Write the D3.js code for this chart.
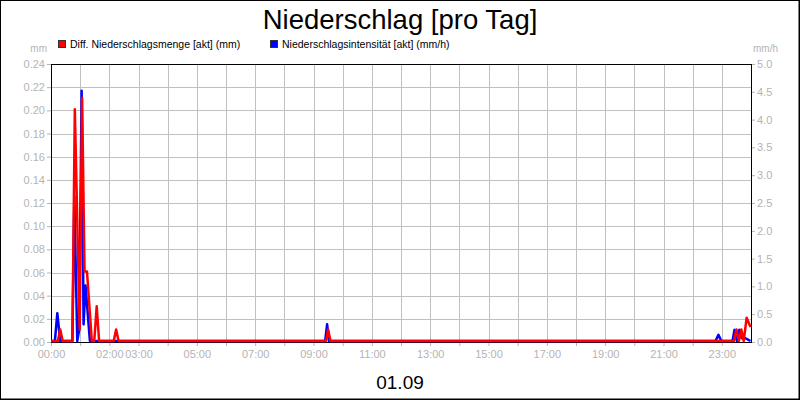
<!DOCTYPE html>
<html>
<head>
<meta charset="utf-8">
<script src="https://cdn.jsdelivr.net/npm/d3@7"></script>
<style>
  body { margin: 0; background: #fff; }
  svg { display: block; font-family: "Liberation Sans", Arial, sans-serif; }
</style>
</head>
<body>
<svg id="chart"></svg>
<script>
// Niederschlag, one day in 5-min-ish steps

var width = 800;
var height = 400;

var mengeTimes  = ["00:00","00:14","00:19","00:24","00:44","00:49","00:59","01:04","01:09","01:14","01:19","01:24",
                   "01:29","01:34","01:39","02:09","02:14","02:19","09:26","09:30","09:35",
                   "23:25","23:30","23:35","23:40","23:45","23:51","23:59"];
var mengeValues = [0, 0, 0.01, 0, 0, 0.20, 0.01, 0.21, 0.06, 0.06, 0.03, 0,
                   0, 0.03, 0, 0, 0.01, 0, 0, 0.01, 0,
                   0, 0.01, 0, 0.01, 0, 0.02, 0.012];

var intensTimes  = ["00:00","00:08","00:13","00:19","00:44","00:48","00:54","00:58","01:03","01:07","01:11","01:20",
                    "09:24","09:28","09:32","22:47","22:53","22:59",
                    "23:22","23:26","23:31","23:36","23:41","23:48","23:59"];
var intensValues = [0, 0, 0.5, 0, 0, 2.6, 0, 0.2, 4.5, 0.3, 1.0, 0,
                    0, 0.3, 0, 0, 0.11, 0,
                    0, 0.2, 0, 0.2, 0.05, 0.05, 0];

var leftTicks  = [0, 0.02, 0.04, 0.06, 0.08, 0.10, 0.12, 0.14, 0.16, 0.18, 0.20, 0.22, 0.24];
var rightTicks = [0, 0.5, 1.0, 1.5, 2.0, 2.5, 3.0, 3.5, 4.0, 4.5, 5.0];
var xTickLabels = ["00:00","02:00","03:00","05:00","07:00","09:00","11:00","13:00",
                   "15:00","17:00","19:00","21:00","23:00"];

var plotLeft = 51, plotRight = 751, plotTop = 64, plotBottom = 342;
var grey = "#b4b4b4";

var parseTime = d3.timeParse("%Y-%m-%d %H:%M");
var fmtHour = d3.timeFormat("%H:%M");
function toDate(t) { return parseTime("2000-09-01 " + t); }

var mengeData = mengeTimes.map((t, i) => ({date: toDate(t), value: mengeValues[i]}));
var intensData = intensTimes.map((t, i) => ({date: toDate(t), value: intensValues[i]}));

var dayStart = toDate("00:00");
var dayEnd = d3.timeDay.offset(dayStart, 1);
var hours = d3.timeHour.range(dayStart, dayEnd);   // 00:00 .. 23:00

var xScale = d3.scaleTime()
                .domain([dayStart, dayEnd])
                .range([plotLeft, plotRight]);

var yLeft = d3.scaleLinear()
                .domain([0, 0.24])
                .range([plotBottom, plotTop]);

var yRight = d3.scaleLinear()
                .domain([0, 5])
                .range([plotBottom, plotTop]);

var svg = d3.select("#chart")
            .attr("width", width)
            .attr("height", height);

svg.append("rect")
    .attr("width", width)
    .attr("height", height)
    .attr("fill", "#fff");

// grid
svg.append("g")
    .selectAll("line")
    .data(hours.slice(1))
    .enter()
    .append("line")
        .attr("x1", d => Math.round(xScale(d)) + 0.5)
        .attr("x2", d => Math.round(xScale(d)) + 0.5)
        .attr("y1", plotTop)
        .attr("y2", plotBottom)
        .attr("stroke", "#c0c0c0");

svg.append("g")
    .selectAll("line")
    .data(leftTicks.slice(1, -1))
    .enter()
    .append("line")
        .attr("x1", plotLeft)
        .attr("x2", plotRight)
        .attr("y1", d => Math.round(yLeft(d)) + 0.5)
        .attr("y2", d => Math.round(yLeft(d)) + 0.5)
        .attr("stroke", "#c0c0c0");

// axes
var leftAxis = d3.axisLeft(yLeft)
                .tickValues(leftTicks)
                .tickFormat(d3.format(".2f"))
                .tickSize(4)
                .tickPadding(2);

var rightAxis = d3.axisRight(yRight)
                .tickValues(rightTicks)
                .tickFormat(d3.format(".1f"))
                .tickSize(4)
                .tickPadding(2);

var bottomAxis = d3.axisBottom(xScale)
                .tickValues(hours)
                .tickFormat(d => xTickLabels.indexOf(fmtHour(d)) >= 0 ? fmtHour(d) : "")
                .tickSize(4)
                .tickPadding(4);

function styleAxis(g) {
    g.select(".domain").remove();
    g.selectAll("line").attr("stroke", grey);
    g.selectAll("text")
        .attr("fill", grey)
        .style("font-size", "11px")
        .style("font-family", "'Liberation Sans', Arial, sans-serif");
}

svg.append("g")
    .attr("transform", "translate(" + plotLeft + ",0)")
    .call(leftAxis)
    .call(styleAxis);

svg.append("g")
    .attr("transform", "translate(" + plotRight + ",0)")
    .call(rightAxis)
    .call(styleAxis);

svg.append("g")
    .attr("transform", "translate(0," + plotBottom + ")")
    .call(bottomAxis)
    .call(styleAxis);

// plot frame
svg.append("rect")
    .attr("x", plotLeft + 0.5)
    .attr("y", plotTop + 0.5)
    .attr("width", plotRight - plotLeft)
    .attr("height", plotBottom - plotTop)
    .attr("fill", "none")
    .attr("stroke", "#000");

// lines
var intensLine = d3.line()
                    .x(d => xScale(d.date))
                    .y(d => yRight(d.value));

var mengeLine = d3.line()
                    .x(d => xScale(d.date))
                    .y(d => yLeft(d.value));

svg.append("path")
    .datum(intensData)
    .attr("d", intensLine)
    .attr("transform", "translate(0,-1)")
    .attr("fill", "none")
    .attr("stroke", "#0000ff")
    .attr("stroke-width", 2.5)
    .attr("stroke-linejoin", "round");

svg.append("path")
    .datum(mengeData)
    .attr("d", mengeLine)
    .attr("transform", "translate(0,-1)")
    .attr("fill", "none")
    .attr("stroke", "#ff0000")
    .attr("stroke-width", 2.5)
    .attr("stroke-linejoin", "round");

// titles and units
svg.append("text")
    .attr("x", 400)
    .attr("y", 29)
    .attr("text-anchor", "middle")
    .style("font-size", "27.5px")
    .attr("fill", "#000")
    .text("Niederschlag [pro Tag]");

svg.append("text")
    .attr("x", 400)
    .attr("y", 389)
    .attr("text-anchor", "middle")
    .style("font-size", "19px")
    .attr("fill", "#000")
    .text("01.09");

svg.append("text")
    .attr("x", 47)
    .attr("y", 52)
    .attr("text-anchor", "end")
    .style("font-size", "10px")
    .attr("fill", grey)
    .text("mm");

svg.append("text")
    .attr("x", 753)
    .attr("y", 52)
    .style("font-size", "10px")
    .attr("fill", grey)
    .text("mm/h");

// legend
var legendItems = [
    {label: "Diff. Niederschlagsmenge [akt] (mm)", color: "#ff0000", x: 58},
    {label: "Niederschlagsintensität [akt] (mm/h)", color: "#0000ff", x: 270}
];

var legend = svg.selectAll(".legend")
                .data(legendItems)
                .enter()
                .append("g")
                    .classed("legend", true)
                    .attr("transform", d => "translate(" + d.x + ",40)");

legend.append("rect")
    .attr("x", 0.5)
    .attr("y", 0.5)
    .attr("width", 7)
    .attr("height", 7)
    .attr("fill", d => d.color)
    .attr("stroke", "#333");

legend.append("text")
    .attr("x", 12)
    .attr("y", 8)
    .style("font-size", "10.5px")
    .attr("fill", "#000")
    .text(d => d.label);

// outer border
svg.append("rect")
    .attr("x", 0.5)
    .attr("y", 0.5)
    .attr("width", width - 1.5)
    .attr("height", height - 1.5)
    .attr("fill", "none")
    .attr("stroke", "#000");
svg.append("line")
    .attr("x1", 799.5).attr("x2", 799.5)
    .attr("y1", 0).attr("y2", 400)
    .attr("stroke", "#000");
svg.append("line")
    .attr("x1", 0).attr("x2", 800)
    .attr("y1", 399.5).attr("y2", 399.5)
    .attr("stroke", "#000");
</script>
</body>
</html>
